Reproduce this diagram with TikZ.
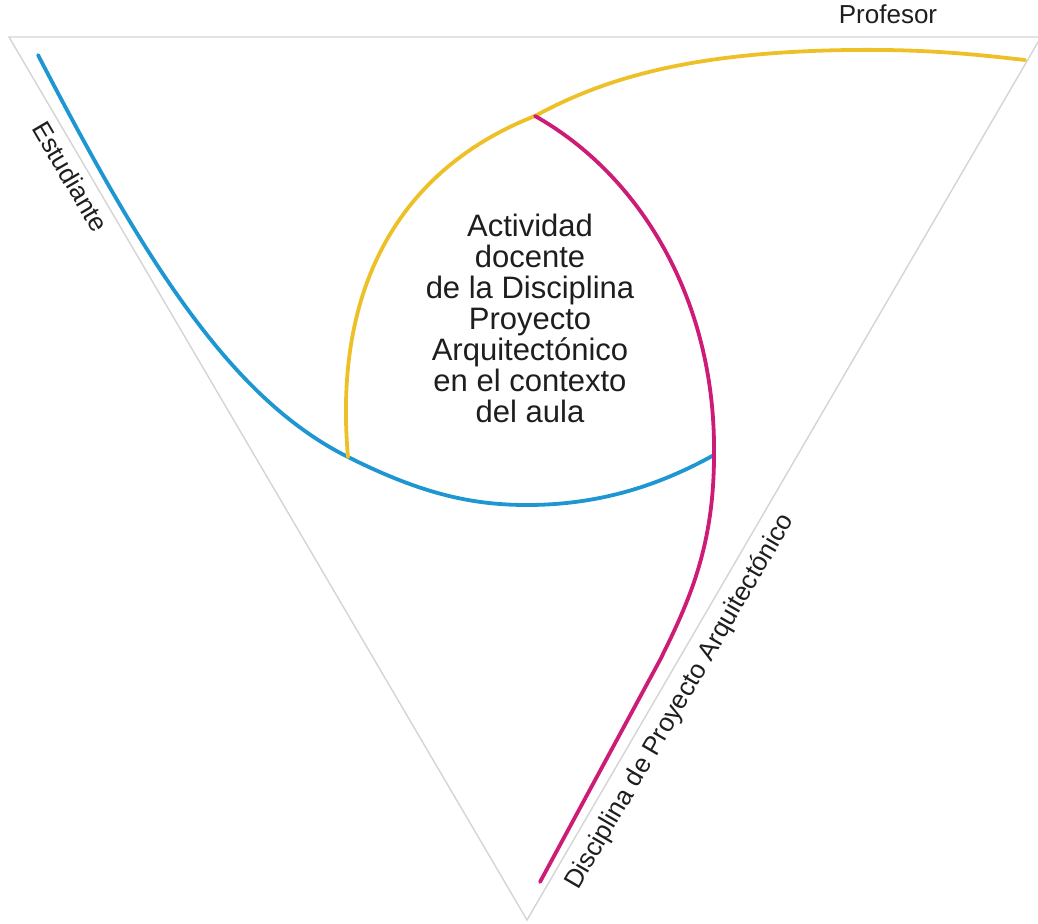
\documentclass[tikz,border=0pt]{standalone}
\usepackage{fontspec}
\setmainfont{Liberation Sans}
\definecolor{cblue}{RGB}{30,150,210}
\definecolor{cyel}{RGB}{238,192,40}
\definecolor{cmag}{RGB}{204,28,118}
\definecolor{ctext}{RGB}{30,30,30}
\begin{document}
\begin{tikzpicture}[x=1pt,y=-1pt,
  edge/.style={draw=black!17, line width=1.4pt, line join=miter},
  band/.style={line width=3.8pt, line cap=round},
  label/.style={font=\fontsize{26}{30}\selectfont, text=ctext, inner sep=0pt},
  centre/.style={font=\fontsize{31}{31}\selectfont, text=ctext, inner sep=0pt, align=center},
]
\useasboundingbox (0,0) rectangle (1038,923);

% outer triangle
\coordinate (L) at (9,37);
\coordinate (R) at (1041,37);
\coordinate (B) at (527,920);
\draw[edge] (L) -- (R) -- (B) -- cycle;

% junctions of the three curves
\coordinate (jby) at (348,457);
\coordinate (jym) at (535,116);
\coordinate (jmb) at (714,455);

% Estudiante
\draw[band, cblue] (38,55) .. controls (142,255) and (228,397) .. (jby)
  .. controls (420,493) and (470,505) .. (527,505)
  .. controls (600,505) and (660,485) .. (jmb);

% Profesor
\draw[band, cyel] (jby) .. controls (332,275) and (410,165) .. (jym)
  .. controls (610,75) and (700,52) .. (850,50)
  .. controls (930,49) and (980,55) .. (1025,60);

% Disciplina
\draw[band, cmag] (jym) .. controls (640,175) and (716,300) .. (jmb)
  .. controls (714,545) and (690,600) .. (660,660)
  -- (540,882);

% labels
\node[label, anchor=mid] (prof) at (888,21) {Profesor};
\node[label, anchor=mid, rotate=-59.6] (est) at (65,180) {Estudiante};
\node[label, anchor=mid, rotate=59.8] (disc) at (684,704) {Disciplina de Proyecto Arquitectónico};
\node[centre] (act) at (530,318) {Actividad\\docente\\de la Disciplina\\Proyecto\\Arquitectónico\\en el contexto\\del aula};
\end{tikzpicture}
\end{document}
